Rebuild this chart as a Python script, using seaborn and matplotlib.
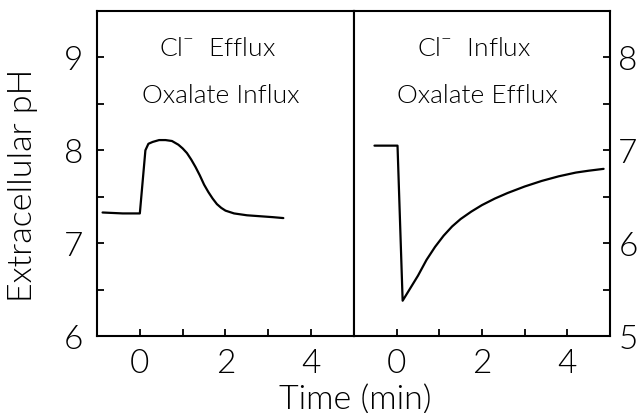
import matplotlib
matplotlib.use("Agg")
import matplotlib.pyplot as plt
import seaborn as sns
import pandas as pd
from matplotlib.ticker import MultipleLocator

# Cl- efflux / oxalate influx trace
t_efflux = [-0.87, -0.4, 0.0, 0.13, 0.2, 0.3, 0.45, 0.6, 0.75, 0.9, 1.0, 1.1, 1.2, 1.3,
            1.4, 1.5, 1.6, 1.7, 1.8, 1.9, 2.0, 2.2, 2.5, 2.8, 3.1, 3.35]
ph_efflux = [7.33, 7.32, 7.32, 8.0, 8.07, 8.09, 8.11, 8.11, 8.10, 8.06, 8.02, 7.97, 7.90, 7.82,
             7.73, 7.63, 7.55, 7.48, 7.42, 7.38, 7.35, 7.32, 7.30, 7.29, 7.28, 7.27]

# Cl- influx / oxalate efflux trace
t_influx = [-0.52, 0.02, 0.14, 0.3, 0.5, 0.7, 0.9, 1.1, 1.3, 1.5, 1.75, 2.0, 2.3, 2.6,
            3.0, 3.4, 3.8, 4.2, 4.5, 4.85]
ph_influx = [7.05, 7.05, 5.38, 5.50, 5.65, 5.82, 5.96, 6.08, 6.18, 6.26, 6.34, 6.41, 6.48, 6.54,
             6.61, 6.67, 6.72, 6.76, 6.78, 6.80]

panel_titles = [("Cl$^{\\mathsf{-}}$  Efflux", "Oxalate Influx"),
                ("Cl$^{\\mathsf{-}}$  Influx", "Oxalate Efflux")]

sns.set_style("ticks")
plt.rcParams["font.family"] = ["Lato", "DejaVu Sans"]
plt.rcParams["font.weight"] = 300
plt.rcParams["mathtext.fontset"] = "custom"
plt.rcParams["mathtext.rm"] = "Lato:weight=300"
plt.rcParams["mathtext.sf"] = "Lato:weight=300"
plt.rcParams["text.color"] = "black"

W, H = 642, 414
fig = plt.figure(figsize=(W / 100, H / 100), dpi=100)
ax1 = fig.add_axes([97 / W, (H - 337) / H, 257 / W, 325 / H])
ax2 = fig.add_axes([354 / W, (H - 337) / H, 256 / W, 325 / H])

df1 = pd.DataFrame({"t": t_efflux, "ph": ph_efflux})
df2 = pd.DataFrame({"t": t_influx, "ph": ph_influx})
sns.lineplot(data=df1, x="t", y="ph", ax=ax1, color="black", lw=1.6)
sns.lineplot(data=df2, x="t", y="ph", ax=ax2, color="black", lw=1.6)

ax1.set_xlim(-1, 5)
ax1.set_ylim(6, 9.5)
ax2.set_xlim(-1, 5)
ax2.set_ylim(5, 8.5)

for ax in (ax1, ax2):
    for s in ax.spines.values():
        s.set_linewidth(1.5)
        s.set_color("black")
    ax.set_xlabel("")
    ax.set_ylabel("")
    ax.xaxis.set_major_locator(MultipleLocator(2))
    ax.xaxis.set_minor_locator(MultipleLocator(1))
    ax.yaxis.set_major_locator(MultipleLocator(1))
    ax.yaxis.set_minor_locator(MultipleLocator(0.5))
    ax.tick_params(which="both", direction="in", width=1.3, colors="black",
                   labelsize=24, top=False, length=5)
    ax.tick_params(axis="x", pad=9)
    ax.set_xticks([0, 2, 4])

ax1.tick_params(axis="y", which="both", left=True, right=False, pad=10)
ax2.tick_params(axis="y", which="both", left=False, right=True,
                labelleft=False, labelright=True, pad=6)

for ax, (l1, l2) in zip((ax1, ax2), panel_titles):
    ax.text(0.47, 0.885, l1, transform=ax.transAxes, ha="center", va="center", fontsize=19)
    ax.text(0.48, 0.74, l2, transform=ax.transAxes, ha="center", va="center", fontsize=19)

fig.text(355 / W, 1 - 400 / H, "Time (min)", ha="center", va="center", fontsize=24.5)
fig.text(23 / W, 1 - 185 / H, "Extracellular pH", ha="center", va="center",
         rotation=90, fontsize=24.5)

fig.savefig("out.png", dpi=100)
